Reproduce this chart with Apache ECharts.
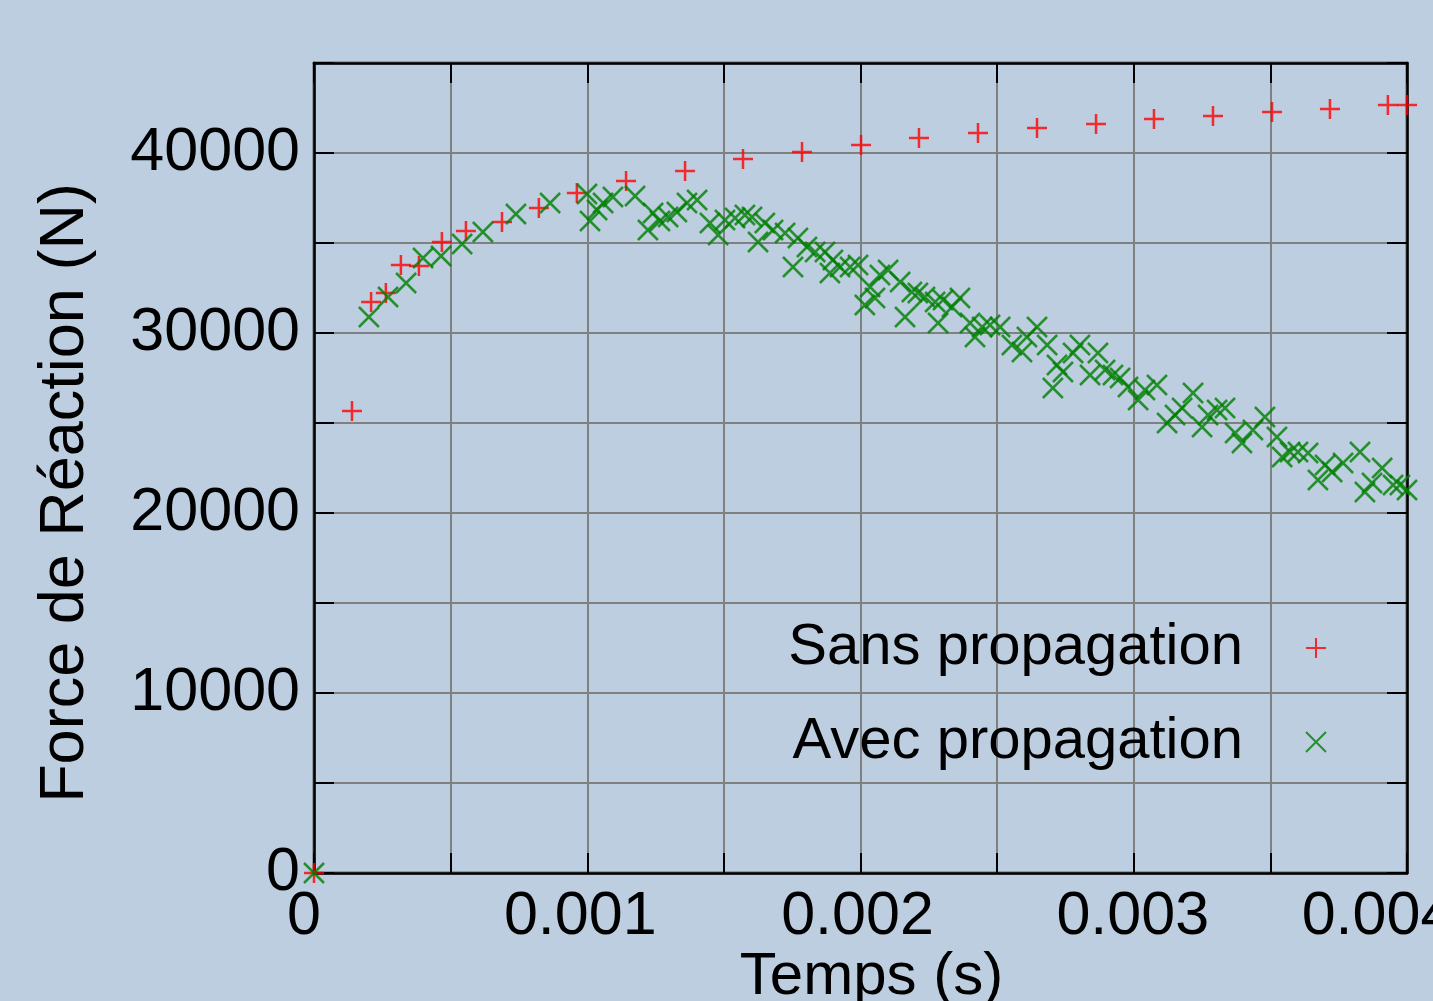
<!DOCTYPE html>
<html>
<head>
<meta charset="utf-8">
<script src="https://cdn.jsdelivr.net/npm/echarts@6/dist/echarts.min.js"></script>
<style>
html,body{margin:0;padding:0;background:#bdcee0;}
#chart{width:1433px;height:1001px;}
</style>
</head>
<body>
<div id="chart"></div>
<script>
const seriesNames = ['Sans propagation', 'Avec propagation'];
const xTickLabels = ['0', '0.001', '0.002', '0.003', '0.004'];
const yTickLabels = ['0', '10000', '20000', '30000', '40000'];

const sansPropagation = [
  [0, 0], [0.000139, 25667], [0.000209, 31722], [0.000263, 32222], [0.000318, 33778],
  [0.000384, 33722], [0.000468, 35056], [0.000556, 35667], [0.000688, 36167],
  [0.000823, 36944], [0.000962, 37778], [0.001142, 38444], [0.001358, 39000],
  [0.00157, 39667], [0.001786, 40056], [0.002002, 40444], [0.002214, 40833],
  [0.00243, 41111], [0.002646, 41389], [0.002862, 41611], [0.003074, 41889],
  [0.00329, 42056], [0.003506, 42278], [0.003718, 42444], [0.00393, 42667], [0.004, 42667]
];

const avecPropagation = [
  [0, 0], [0.000201, 30889], [0.000271, 32000], [0.000337, 32778], [0.000399, 34167],
  [0.000465, 34278], [0.000542, 34944], [0.000618, 35611], [0.000739, 36611],
  [0.000864, 37222], [0.000999, 37722], [0.00101, 36222], [0.001036, 36833],
  [0.001058, 37222], [0.001094, 37556], [0.001175, 37611], [0.001222, 35722],
  [0.001241, 36667], [0.001266, 36222], [0.001296, 36444], [0.001328, 36722],
  [0.001365, 37222], [0.001402, 37389], [0.001449, 36111], [0.001479, 35444],
  [0.001504, 36278], [0.001541, 36389], [0.001577, 36556], [0.001603, 36444],
  [0.001625, 35056], [0.00165, 36111], [0.00168, 35722], [0.001724, 35556],
  [0.001753, 33667], [0.001771, 35278], [0.001804, 34778], [0.001834, 34500],
  [0.00187, 34500], [0.001888, 33333], [0.001899, 34056], [0.001925, 33667],
  [0.001962, 33667], [0.001991, 33778], [0.002016, 31556], [0.002035, 32556],
  [0.002053, 31944], [0.002071, 33222], [0.002101, 33500], [0.002145, 32833],
  [0.002163, 30889], [0.002188, 32278], [0.00221, 32222], [0.002236, 32000],
  [0.002273, 31722], [0.002284, 30556], [0.002302, 31833], [0.002335, 31444],
  [0.002364, 31944], [0.002401, 30556], [0.002419, 29778], [0.002445, 30333],
  [0.002474, 30444], [0.002511, 30333], [0.002554, 29333], [0.002591, 28944],
  [0.002609, 29778], [0.002646, 30333], [0.002683, 29333], [0.002704, 26944],
  [0.002719, 28222], [0.002741, 27833], [0.002778, 28889], [0.002803, 29333],
  [0.00284, 27667], [0.002869, 28889], [0.002895, 27944], [0.002924, 27667],
  [0.00295, 27500], [0.002979, 27000], [0.003016, 26278], [0.003041, 26833],
  [0.003085, 27111], [0.003122, 25000], [0.003151, 25444], [0.003177, 25833],
  [0.003217, 26667], [0.00325, 24778], [0.003272, 25444], [0.003305, 25722],
  [0.003334, 25833], [0.003371, 24444], [0.003396, 23889], [0.003436, 24611],
  [0.00348, 25333], [0.003524, 24222], [0.003543, 23111], [0.003572, 23389],
  [0.003601, 23389], [0.003638, 23333], [0.003674, 21833], [0.0037, 22667],
  [0.003726, 22278], [0.003766, 22778], [0.003828, 23389], [0.003846, 21167],
  [0.003872, 21667], [0.003909, 22500], [0.003949, 21556], [0.003974, 21556],
  [0.004, 21278]
];

const FONT = 'Liberation Sans, Arial, sans-serif';
const plusPath = 'path://M10,0L10,20M0,10L20,10';
const crossPath = 'path://M0,0L20,20M0,20L20,0';
const xLabelStyleKeys = ['s0', 's1', 's2', 's3', 's4'];

function xFmt(v) {
  const k = Math.round(v * 10000);
  if (k % 10 !== 0) return '';
  const i = k / 10;
  if (!xTickLabels[i]) return '';
  return '{' + xLabelStyleKeys[i] + '|' + xTickLabels[i] + '}';
}
function yFmt(v) {
  if (v % 10000 !== 0) return '';
  return yTickLabels[v / 10000] || '';
}

function richShift(shiftLeft) {
  return { fontSize: 61, color: '#000', fontFamily: FONT, padding: [0, shiftLeft * 2, 0, 0] };
}

const tickStyle = { show: true, inside: true, length: 20, lineStyle: { color: '#000', width: 2 } };
const axisLineStyle = { show: true, onZero: false, lineStyle: { color: '#000', width: 2.5 } };

const chart = echarts.init(document.getElementById('chart'));
chart.setOption({
  backgroundColor: '#bdcee0',
  animation: false,
  textStyle: { fontFamily: FONT },
  grid: {
    left: 314, right: 26, top: 63, bottom: 128, containLabel: false,
    outerBoundsMode: 'none',
    show: true, borderColor: '#000', borderWidth: 2.5, backgroundColor: 'transparent'
  },
  legend: {
    orient: 'vertical',
    right: 101,
    top: 613,
    align: 'right',
    itemWidth: 20,
    itemHeight: 20,
    itemGap: 34,
    data: seriesNames,
    textStyle: { fontSize: 58, fontFamily: FONT, color: '#000', lineHeight: 60, padding: [0, 58, 0, 0] }
  },
  xAxis: [{
    type: 'value', min: 0, max: 0.004, interval: 0.0005,
    name: 'Temps (s)', nameLocation: 'middle', nameGap: 74, nameMoveOverlap: false,
    nameTextStyle: { fontSize: 60, color: '#000', fontFamily: FONT, padding: [0, 0, 0, 22] },
    axisLine: axisLineStyle, axisTick: tickStyle,
    axisLabel: {
      formatter: xFmt, fontSize: 61, color: '#000', margin: 14, fontFamily: FONT,
      rich: { s0: richShift(10), s1: richShift(7), s2: richShift(3), s3: richShift(1), s4: richShift(29) }
    },
    splitLine: { show: true, lineStyle: { color: '#808080', width: 2 } }
  }, {
    type: 'value', position: 'top', gridIndex: 0, min: 0, max: 0.004, interval: 0.0005,
    axisLine: axisLineStyle, axisTick: tickStyle,
    axisLabel: { show: false }, splitLine: { show: false }
  }],
  yAxis: [{
    type: 'value', min: 0, max: 45000, interval: 5000,
    name: 'Force de Réaction (N)', nameLocation: 'middle', nameGap: 217, nameMoveOverlap: false,
    nameTextStyle: { fontSize: 63, color: '#000', fontFamily: FONT, padding: [0, 50, 0, 0] },
    axisLine: axisLineStyle, axisTick: tickStyle,
    axisLabel: { formatter: yFmt, fontSize: 61, color: '#000', margin: 14, fontFamily: FONT },
    splitLine: { show: true, lineStyle: { color: '#808080', width: 2 } }
  }, {
    type: 'value', position: 'right', gridIndex: 0, min: 0, max: 45000, interval: 5000,
    axisLine: axisLineStyle, axisTick: tickStyle,
    axisLabel: { show: false }, splitLine: { show: false }
  }],
  series: [{
    name: seriesNames[0], type: 'scatter', xAxisIndex: 0, yAxisIndex: 0,
    symbol: plusPath, symbolSize: 20, clip: false,
    itemStyle: { color: 'rgba(0,0,0,0)', borderColor: '#ff0000', borderWidth: 2.5 },
    data: sansPropagation, z: 3
  }, {
    name: seriesNames[1], type: 'scatter', xAxisIndex: 0, yAxisIndex: 0,
    symbol: crossPath, symbolSize: 20, clip: false,
    itemStyle: { color: 'rgba(0,0,0,0)', borderColor: '#008000', borderWidth: 2.5 },
    data: avecPropagation, z: 4
  }]
});
</script>
</body>
</html>
